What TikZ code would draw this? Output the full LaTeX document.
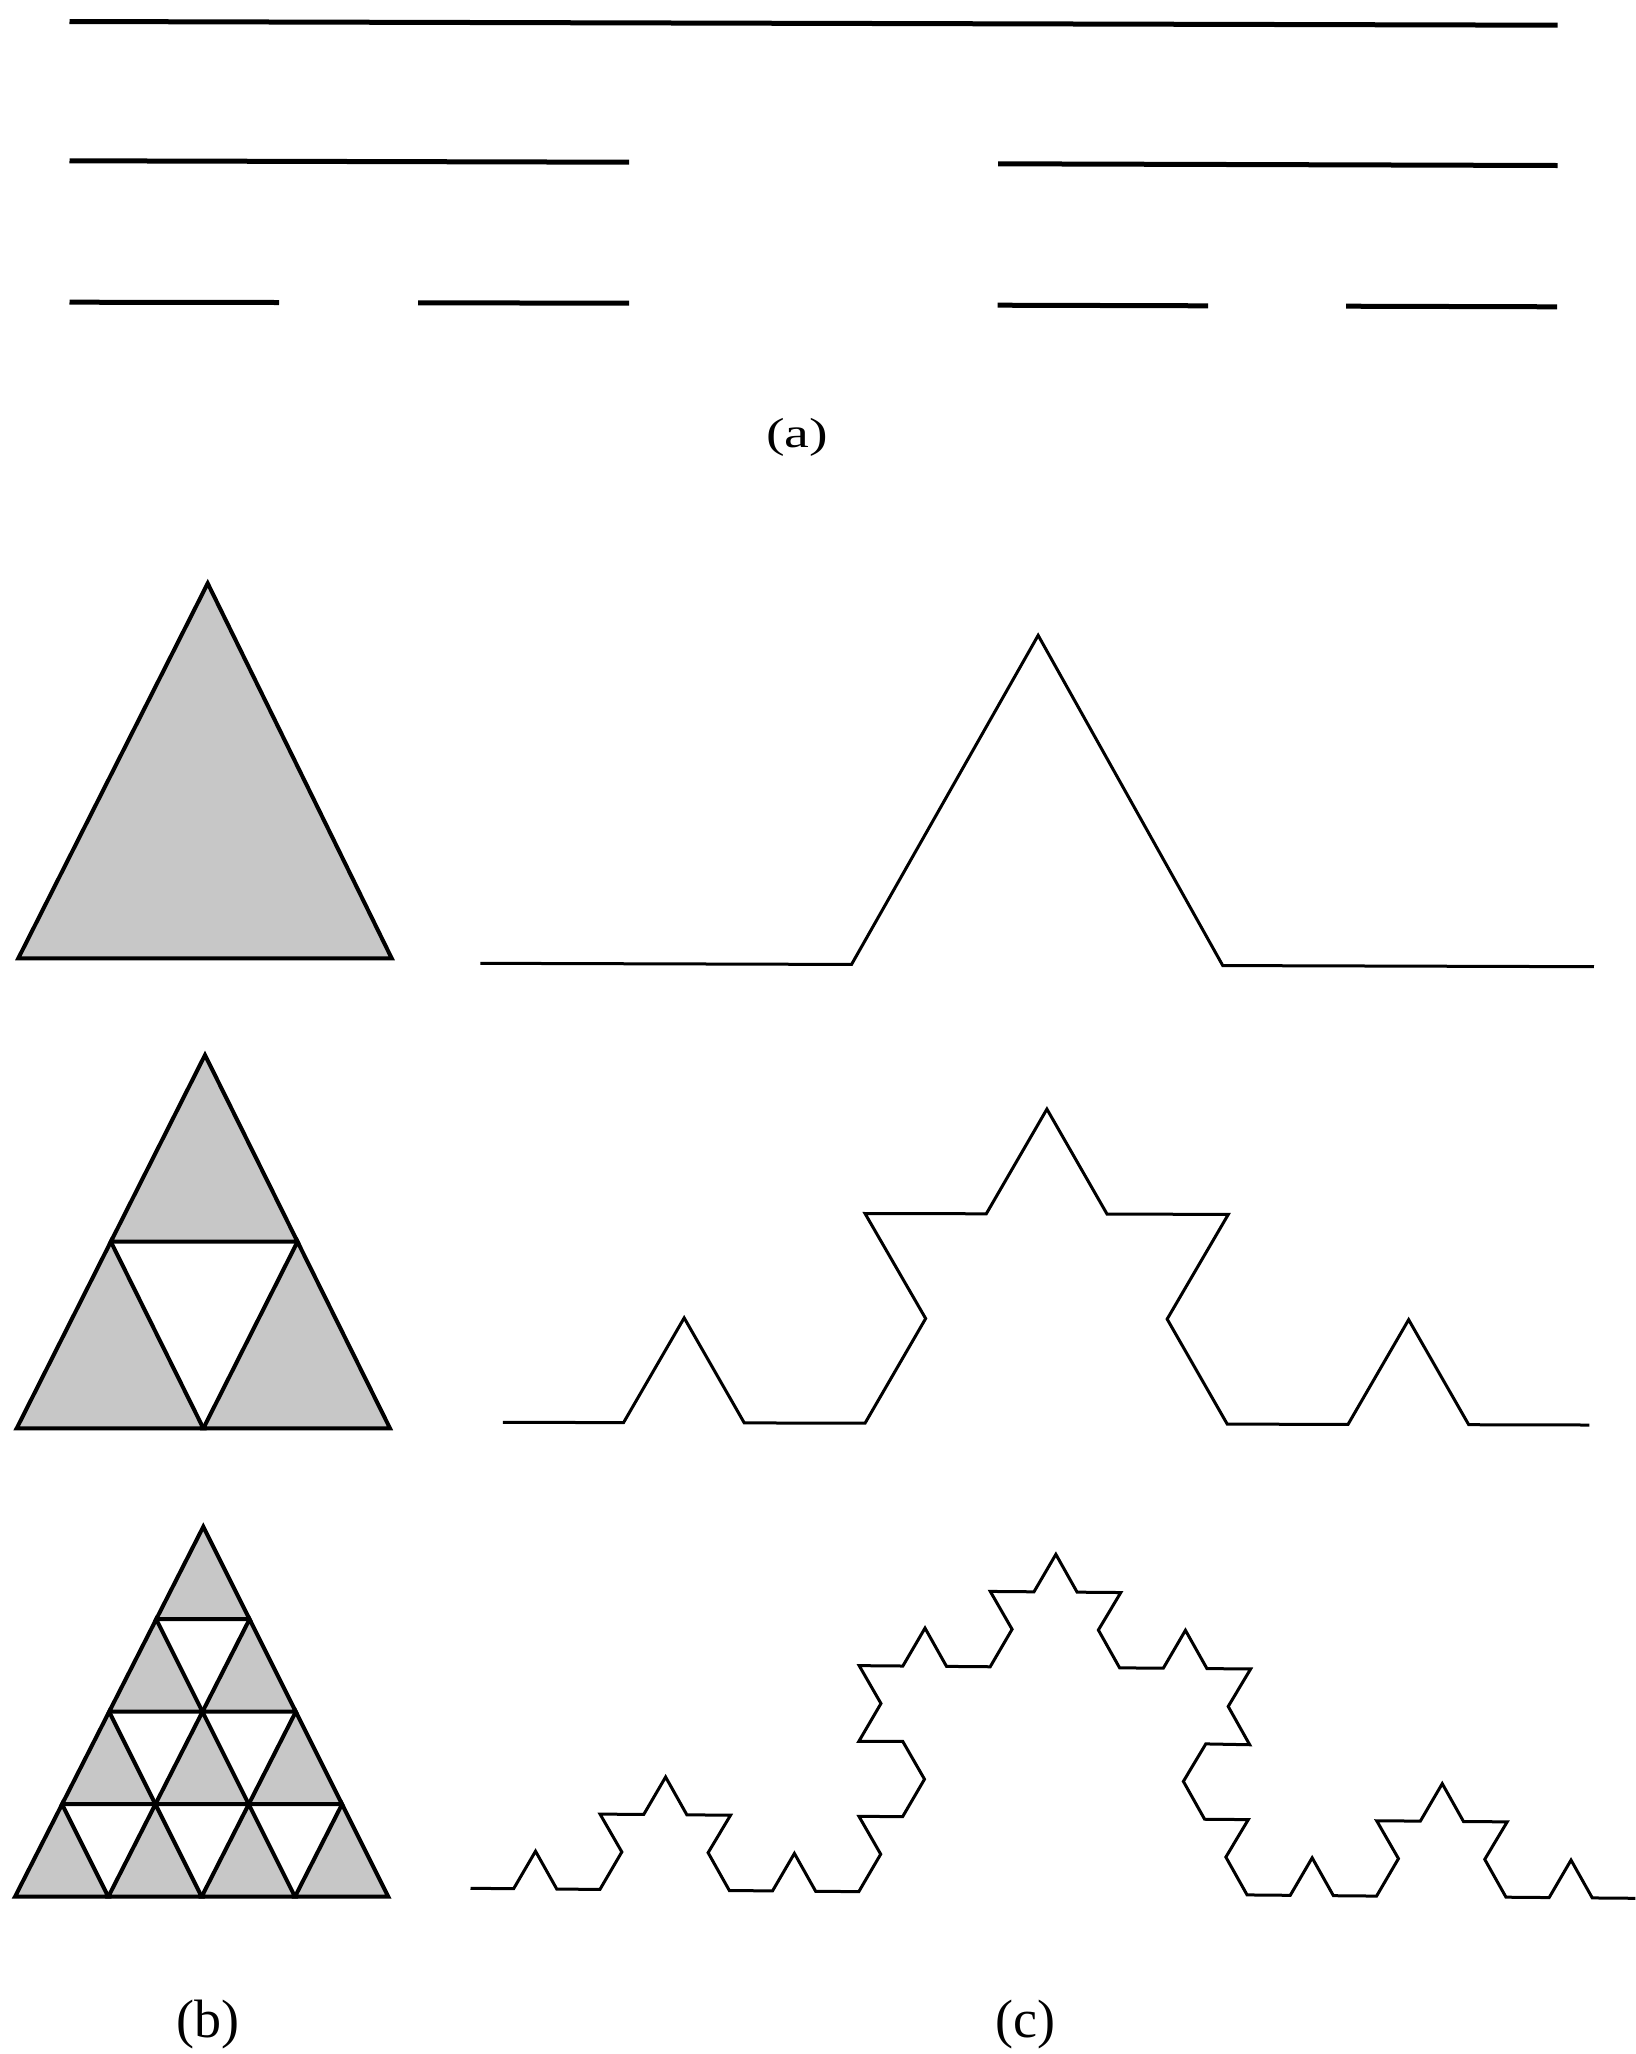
\documentclass[tikz,border=0pt]{standalone}
\usepackage{fontspec}
\setmainfont{Liberation Serif}
\usepackage{graphicx}
\usetikzlibrary{decorations.fractals}
\def\kochh{0.288675}
\pgfdeclaredecoration{koch bump}{draw}{
  \state{draw}[width=\pgfdecoratedinputsegmentlength]{
    \pgfmathsetlengthmacro\kochL{\pgfdecoratedinputsegmentlength}
    \pgfmathsetlengthmacro\kochA{\kochL/3}
    \pgfmathsetlengthmacro\kochB{\kochL/2}
    \pgfmathsetlengthmacro\kochC{2*\kochL/3}
    \pgfmathsetlengthmacro\kochY{\kochh*\kochL}
    \pgfpathlineto{\pgfpoint{\kochA}{0pt}}
    \pgfpathlineto{\pgfpoint{\kochB}{\kochY}}
    \pgfpathlineto{\pgfpoint{\kochC}{0pt}}
    \pgfpathlineto{\pgfpoint{\kochL}{0pt}}
  }
}
\newcommand\sierpinski[6]{% #1 apex x, #2 apex y, #3 left x, #4 right x, #5 base y, #6 rows
  \foreach \r in {1,...,#6}{
    \foreach \j in {1,...,\r}{
      \pgfmathsetmacro\topx{#1+(\r-1)/#6*(#3-#1)+(\j-1)/#6*(#4-#3)}
      \pgfmathsetmacro\topy{#2+(\r-1)/#6*(#5-#2)}
      \pgfmathsetmacro\botx{#1+\r/#6*(#3-#1)+(\j-1)/#6*(#4-#3)}
      \pgfmathsetmacro\boty{#2+\r/#6*(#5-#2)}
      \pgfmathsetmacro\botxr{\botx+(#4-#3)/#6}
      \filldraw[sier] (\topx,\topy) -- (\botx,\boty) -- (\botxr,\boty) -- cycle;
    }
  }
}
\begin{document}
\begin{tikzpicture}[x=1pt,y=-1pt,
  cantor/.style={line width=5pt,line cap=butt},
  sier/.style={fill=black!22,draw=black,line width=4pt,line join=miter},
  koch/.style={line width=3pt,decoration=koch bump,line join=miter},
  lab/.style={inner sep=0pt}]
\useasboundingbox[fill=white] (0,0) rectangle (1636,2054);

% (a) Cantor set
\draw[cantor] (69.5,21.5) -- (1557.5,25.2);
\draw[cantor] (69.5,160.8) -- (629,162.2);
\draw[cantor] (998,163.8) -- (1557.5,165.5);
\draw[cantor] (69.5,302.2) -- (279,302.5);
\draw[cantor] (418,302.8) -- (629,303.2);
\draw[cantor] (997.5,305.2) -- (1208,305.8);
\draw[cantor] (1346,306.2) -- (1557,306.8);
\node[lab,font=\fontsize{42}{50}\selectfont] (la) at (797,437) {\scalebox{1.33}[1]{(a)}};

% (b) Sierpinski-type triangles
\sierpinski{207.7}{583.3}{18.3}{391.7}{958.3}{1}
\sierpinski{205}{1055}{16.7}{390}{1428.3}{2}
\sierpinski{203.3}{1526.7}{15}{388.3}{1896.7}{4}

% (c) Koch curves
\coordinate (k1s) at (480.3,963.3);
\coordinate (k1e) at (1594,966.7);
\coordinate (k2s) at (502.8,1422.3);
\coordinate (k2e) at (1589.5,1425);
\coordinate (k3s) at (470.5,1888.3);
\coordinate (k3e) at (1635.5,1898.3);
\def\kochh{0.296}
\draw[koch] decorate{ (k1s) -- (k1e) };
\def\kochh{0.2895}
\draw[koch] decorate{ decorate{ (k2s) -- (k2e) } };
\def\kochh{0.291}
\draw[koch] decorate{ decorate{ decorate{ (k3s) -- (k3e) } } };

\node[lab,font=\fontsize{54}{62}\selectfont] (lb) at (208,2024) {(b)};
\node[lab,font=\fontsize{54}{62}\selectfont] (lc) at (1025,2024) {(c)};
\end{tikzpicture}
\end{document}
